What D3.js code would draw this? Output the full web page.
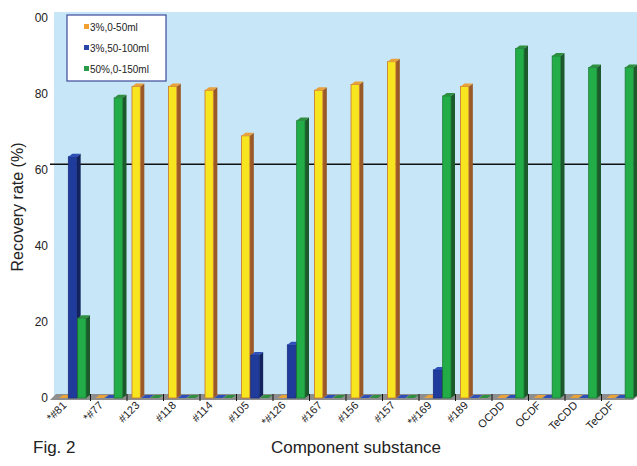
<!DOCTYPE html>
<html lang="en">
<head>
    <meta charset="UTF-8">
    <title>Recovery rate</title>
    <script src="https://d3js.org/d3.v7.min.js"></script>
    <style>
        body { margin: 0; background: #fff; }
        text { font-family: "Liberation Sans", Arial, sans-serif; }
    </style>
</head>
<body>
    <div id="chart"></div>
    <script>
        const categories = ["*#81", "*#77", "#123", "#118", "#114", "#105", "*#126", "#167",
                            "#156", "#157", "*#169", "#189", "OCDD", "OCDF", "TeCDD", "TeCDF"];
        const series = ["3%,0-50ml", "3%,50-100ml", "50%,0-150ml"];
        const low = [0, 0, 82, 82, 81, 69, 0, 81, 82.5, 88.5, 0, 82, 0, 0, 0, 0];
        const mid = [63.5, 0, 0, 0, 0, 11.3, 14, 0, 0, 0, 7.4, 0, 0, 0, 0, 0];
        const high = [21, 79, 0, 0, 0, 0, 73, 0, 0, 0, 79.5, 0, 92, 90, 87, 87];
        const yTicks = [0, 20, 40, 60, 80, 100];
        const yTickLabels = ["0", "20", "40", "60", "80", "00"];
        const refLine = 61.5;

        const w = 637, h = 466;
        const plotLeft = 54, plotRight = 638, plotTop = 12, base = 398;
        const dx = 4, dy = 3;

        const svg = d3.select("#chart").append("svg")
            .attr("width", w).attr("height", h);

        const xScale = d3.scaleBand().domain(categories).range([plotLeft, plotRight]);
        const inner = d3.scaleBand().domain(series).range([5, 33]);
        const yScale = d3.scaleLinear().domain([0, 100]).range([base, 18]);

        // colours: front, side, top
        const colors = {
            "3%,0-50ml": { front: "#f7e51f", side: "#9a5a28", top: "#e9a13a", edge: "#c8742e", legend: "#f0a030" },
            "3%,50-100ml": { front: "#1f3c9c", side: "#12235e", top: "#2e4fb8", edge: "#1a2f80", legend: "#2a44a8" },
            "50%,0-150ml": { front: "#22ad48", side: "#1c5a2c", top: "#2f8f40", edge: "#1d7a36", legend: "#2a9a48" }
        };

        // plot wall
        svg.append("rect")
            .attr("x", plotLeft).attr("y", plotTop)
            .attr("width", w - plotLeft).attr("height", base - plotTop - 2)
            .attr("fill", "#c7e7f8");

        // floor
        svg.append("path")
            .attr("d", `M${plotLeft - 4},${base + 2} L${plotRight - 5},${base + 2} L${plotRight + 2},${base - 4} L${plotLeft + 2},${base - 4} Z`)
            .attr("fill", "#8e8e8e");

        // reference line
        svg.append("line")
            .attr("x1", 50).attr("x2", w)
            .attr("y1", yScale(refLine)).attr("y2", yScale(refLine))
            .attr("stroke", "#111").attr("stroke-width", 1.5);

        // category tick marks
        svg.selectAll(".xtick")
            .data(categories.slice(1))
            .enter().append("line")
            .attr("x1", d => xScale(d)).attr("x2", d => xScale(d))
            .attr("y1", base - 4).attr("y2", base + 3)
            .attr("stroke", "#111").attr("stroke-width", 1);

        const rows = [];
        categories.forEach((c, i) => {
            rows.push({ cat: c, s: series[0], v: low[i] });
            rows.push({ cat: c, s: series[1], v: mid[i] });
            rows.push({ cat: c, s: series[2], v: high[i] });
        });

        const bw = inner.bandwidth() - 1;
        const bars = svg.selectAll(".bar")
            .data(rows)
            .enter().append("g")
            .attr("class", "bar");

        bars.each(function(d) {
            const g = d3.select(this);
            const x0 = xScale(d.cat) + inner(d.s);
            const yt = yScale(d.v);
            const c = colors[d.s];
            // side
            g.append("path")
                .attr("d", `M${x0 + bw},${yt} L${x0 + bw + dx},${yt - dy} L${x0 + bw + dx},${base - dy} L${x0 + bw},${base} Z`)
                .attr("fill", c.side);
            // front
            if (d.v > 0) {
                g.append("rect")
                    .attr("x", x0).attr("y", yt)
                    .attr("width", bw).attr("height", base - yt)
                    .attr("fill", c.front)
                    .attr("stroke", c.edge).attr("stroke-width", 0.8);
            }
            // top
            g.append("path")
                .attr("d", `M${x0},${yt} L${x0 + dx},${yt - dy} L${x0 + bw + dx},${yt - dy} L${x0 + bw},${yt} Z`)
                .attr("fill", c.top);
        });

        // y axis labels
        svg.selectAll(".ylabel")
            .data(yTicks)
            .enter().append("text")
            .attr("x", 48)
            .attr("y", d => yScale(d) + 4)
            .attr("text-anchor", "end")
            .attr("font-size", 12)
            .attr("fill", "#222")
            .text((d, i) => yTickLabels[i]);

        // x labels
        svg.selectAll(".xlabel")
            .data(categories)
            .enter().append("text")
            .attr("transform", d => `translate(${xScale(d) + xScale.bandwidth() / 2 - 5},${base + 8}) rotate(-45)`)
            .attr("text-anchor", "end")
            .attr("font-size", 11)
            .attr("fill", "#222")
            .text(d => d);

        // legend
        const lg = svg.append("g").attr("transform", "translate(67,15)");
        lg.append("rect")
            .attr("width", 99).attr("height", 66)
            .attr("fill", "#fff").attr("stroke", "#3b4a9a").attr("stroke-width", 1.2);
        series.forEach((s, i) => {
            lg.append("rect")
                .attr("x", 17).attr("y", 9 + i * 21)
                .attr("width", 5).attr("height", 5)
                .attr("fill", colors[s].legend);
            lg.append("text")
                .attr("x", 23).attr("y", 15.5 + i * 21)
                .attr("font-size", 10)
                .attr("fill", "#222")
                .text(s);
        });

        // titles
        svg.append("text")
            .attr("transform", "translate(23,207) rotate(-90)")
            .attr("text-anchor", "middle")
            .attr("font-size", 16)
            .attr("fill", "#222")
            .text("Recovery rate (%)");

        svg.append("text")
            .attr("x", 33).attr("y", 453)
            .attr("font-size", 17)
            .attr("fill", "#222")
            .text("Fig. 2");

        svg.append("text")
            .attr("x", 356).attr("y", 453)
            .attr("text-anchor", "middle")
            .attr("font-size", 17)
            .attr("fill", "#222")
            .text("Component substance");
    </script>
</body>
</html>
